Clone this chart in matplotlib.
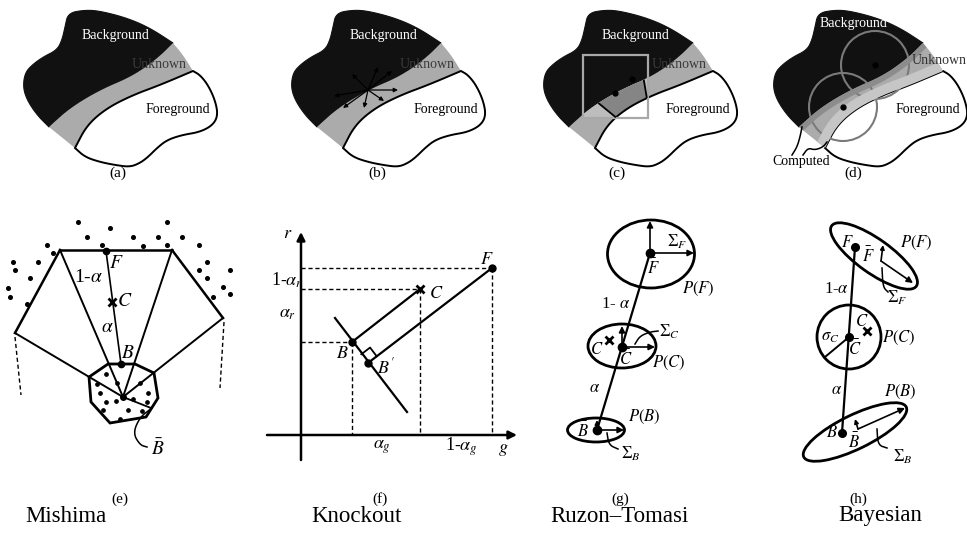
import matplotlib
matplotlib.use("Agg")
import matplotlib.pyplot as plt
import numpy as np
from matplotlib.patches import Polygon, Ellipse, Circle, Rectangle

plt.rcParams['font.family'] = ['Liberation Serif', 'DejaVu Serif']
plt.rcParams['mathtext.fontset'] = 'stix'

# ---- top row: region template (panel (a) pixel coords) ----
outer_black = [(49, 127), (37, 115), (27, 100), (23, 87), (25, 73), (32, 65), (43, 57),
               (57, 50), (62, 40), (65, 27), (68, 13), (85, 10), (100, 11), (127, 18),
               (150, 28), (173, 43)]
bg_edge = [(49, 127), (70, 108), (100, 90), (133, 76), (158, 58), (173, 43)]
band_right = [(173, 43), (183, 55), (193, 71)]
fg_edge = [(75, 148), (87, 125), (107, 108), (133, 95), (160, 85), (193, 71)]
fg_outer = [(193, 71), (200, 75), (208, 85), (215, 100), (218, 115), (213, 125), (200, 132),
            (182, 135), (167, 140), (157, 148), (148, 157), (140, 163), (130, 167),
            (115, 165), (100, 162), (85, 157), (75, 148)]

top_offsets = [0, 268, 520, 750]
top_labels = ['(a)', '(b)', '(c)', '(d)']
top_label_x = [118, 377, 617, 853]

# (b) propagation rays
b_center = (368, 90)
b_rays = [(378, 67), (352, 74), (334, 96), (343, 108), (364, 108), (384, 101), (398, 90), (392, 71)]

# (c) window
c_square = (583, 55, 65, 63)
c_wedge = [(60, 88), (118, 45), (128, 105), (104, 124)]
c_dots = [(632, 79), (615, 93)]

# (d) neighbourhoods
d_circles = [(875, 65, 34), (843, 107, 34)]
d_ptr1 = [(792, 155), (797, 147), (800, 137), (802, 127)]
d_ptr2 = [(803, 155), (808, 148), (815, 150), (823, 147), (827, 142)]

# ---- (e) Mishima ----
e_top = [(60, 250), (172, 250)]
e_left = (15, 333)
e_right = (223, 318)
e_center = (123, 397)
e_oct = [(108, 364), (135, 364), (154, 373), (158, 398), (146, 417), (110, 423), (91, 402), (89, 377)]
e_F, e_B, e_C = (106, 251), (121, 364), (112, 302)
e_dots_out = [(78, 222), (110, 228), (167, 222), (87, 237), (133, 237), (158, 237), (182, 237),
              (47, 245), (53, 253), (102, 245), (143, 246), (167, 245), (199, 245), (13, 262),
              (15, 270), (38, 262), (30, 278), (8, 288), (10, 297), (27, 304), (207, 262),
              (199, 270), (230, 270), (207, 278), (223, 287), (230, 294), (213, 297)]
e_dots_in = [(106, 374), (117, 383), (97, 384), (140, 383), (148, 393), (100, 393), (106, 402),
             (116, 401), (133, 399), (147, 402), (128, 410), (142, 411), (103, 410), (120, 419)]
e_ptr = [(152, 408), (140, 417), (133, 433), (140, 445), (147, 447)]

# ---- (f) Knockout ----
f_origin = (301, 435)
f_rtop, f_gend, f_rbot, f_gstart = 232, 517, 460, 267
f_F, f_C, f_B, f_Bp = (492, 268), (420, 289), (352, 342), (368, 363)
f_perp = [(335, 318), (407, 412)]

# ---- (g) Ruzon-Tomasi ----
g_ell = [(651, 254, 87, 68), (622, 346, 68, 44), (596, 430, 57, 24)]
g_F, g_C, g_B = (650, 253), (622, 347), (597, 430)
g_x = (609, 340)

# ---- (h) Bayesian ----
h_ell = [(874, 256, 104, 34, 35.5), (855, 432, 114, 34, -26)]
h_circ = (849, 337, 32)
h_F, h_C, h_B = (855, 247), (849, 337), (842, 433)
h_x = (867, 331)

titles = ['Mishima', 'Knockout', 'Ruzon\u2013Tomasi', 'Bayesian']
title_x = [66, 356, 619, 880]
bot_labels = ['(e)', '(f)', '(g)', '(h)']
bot_label_x = [120, 380, 620, 858]


def chaikin(pts, n=4):
    p = np.asarray(pts, float)
    for _ in range(n):
        q = [p[0]]
        for a, b in zip(p[:-1], p[1:]):
            q += [0.75 * a + 0.25 * b, 0.25 * a + 0.75 * b]
        q.append(p[-1])
        p = np.array(q)
    return p


def shift(pts, dx):
    return [(x + dx, y) for x, y in pts]


fig = plt.figure(figsize=(9.67, 5.34), dpi=100)
ax = fig.add_axes([0, 0, 1, 1])
ax.set_xlim(0, 967)
ax.set_ylim(534, 0)
ax.axis('off')


def arrow(p0, p1, lw=1.2, ms=9):
    ax.annotate('', xy=p1, xytext=p0,
                arrowprops=dict(arrowstyle='-|>', lw=lw, color='k', mutation_scale=ms,
                                shrinkA=0, shrinkB=0))


def txt(x, y, s, size=12, **kw):
    ax.text(x, y, s, size=size, ha=kw.pop('ha', 'center'), va=kw.pop('va', 'center'), **kw)


# ---------------- top row ----------------
for k, dx in enumerate(top_offsets):
    ob = chaikin(shift(outer_black, dx))
    be = chaikin(shift(bg_edge, dx))
    br = chaikin(shift(band_right, dx), 2)
    fe = chaikin(shift(fg_edge, dx))
    fo = chaikin(shift(fg_outer, dx))
    black = np.vstack([ob, be[::-1]])
    band = np.vstack([be, br, fe[::-1]])
    white = np.vstack([fe, fo])
    ax.add_patch(Polygon(black, closed=True, fc='#111111', ec='#111111', lw=0.8))
    band_p = Polygon(band, closed=True, fc='#ababab', ec='none')
    ax.add_patch(band_p)

    if k == 2:
        sx, sy, sw, sh = c_square
        sq = Rectangle((sx, sy), sw, sh, transform=ax.transData)
        lb = Polygon(band, closed=True, fc='#bdbdbd', ec='none')
        ax.add_patch(lb)
        lb.set_clip_path(sq)
        dk = Polygon(band, closed=True, fc='#858585', ec='none')
        ax.add_patch(dk)
        dk.set_clip_path(Polygon(shift(c_wedge, dx), closed=True, transform=ax.transData))
        w = shift(c_wedge, dx)
        for a, b in [(w[0], w[3]), (w[1], w[2])]:
            ln, = ax.plot([a[0], b[0]], [a[1], b[1]], color='k', lw=1.3)
            ln.set_clip_path(band_p)
    if k == 3:
        ln, = ax.plot(be[:, 0], be[:, 1], color='#8c8c8c', lw=8, solid_capstyle='butt')
        ln.set_clip_path(band_p)
        ln, = ax.plot(fe[:, 0], fe[:, 1], color='#c6c6c6', lw=14, solid_capstyle='butt')
        ln.set_clip_path(band_p)

    ax.add_patch(Polygon(white, closed=True, fc='white', ec='k', lw=1.4))

    if k == 2:
        sx, sy, sw, sh = c_square
        ax.add_patch(Rectangle((sx, sy), sw, sh, fill=False, ec='#a8a8a8', lw=1.6))
        for p in c_dots:
            ax.plot(*p, 'o', color='k', ms=3.5)

    if k == 3:
        for cx, cy, r in d_circles:
            ax.add_patch(Circle((cx, cy), r, fill=False, ec='#7a7a7a', lw=1.5))
            ax.plot(cx, cy, 'o', color='k', ms=3.5)
        for ptr in (d_ptr1, d_ptr2):
            pp = chaikin(ptr, 3)
            ax.plot(pp[:, 0], pp[:, 1], color='k', lw=1.1)
        txt(801, 161, 'Computed', size=10)
        txt(853, 24, 'Background', size=10, color='white')
        txt(912, 60, 'Unknown', size=10, color='#333333', ha='left')
    else:
        txt(115 + dx, 35, 'Background', size=10, color='white')
        txt(159 + dx, 65, 'Unknown', size=10, color='#3a3a3a')
    txt(178 + dx, 109, 'Foreground', size=10)
    txt(top_label_x[k], 173, top_labels[k], size=11)

# (b) rays
for p in b_rays:
    arrow(b_center, p, lw=0.9, ms=6)

# ---------------- (e) Mishima ----------------
ax.plot([e_top[0][0], e_top[1][0]], [e_top[0][1], e_top[1][1]], color='k', lw=1.8)
ax.plot([e_left[0], e_top[0][0]], [e_left[1], e_top[0][1]], color='k', lw=1.8)
ax.plot([e_right[0], e_top[1][0]], [e_right[1], e_top[1][1]], color='k', lw=1.8)
for p in (e_top[0], e_top[1], e_left, e_right):
    ax.plot([p[0], e_center[0]], [p[1], e_center[1]], color='k', lw=1.4)
ax.add_patch(Polygon(e_oct, closed=True, fill=False, ec='k', lw=2.0))
ax.plot([e_center[0], e_oct[4][0] + 5], [e_center[1], e_oct[3][1] + 10], color='k', lw=1.3)
pp = chaikin(e_ptr, 3)
ax.plot(pp[:, 0], pp[:, 1], color='k', lw=1.1)
ax.plot([e_left[0], e_left[0] + 6], [e_left[1] + 4, 395], color='k', lw=1.0, ls=(0, (3, 2)))
ax.plot([e_right[0] + 1, e_right[0] - 3], [e_right[1] + 4, 388], color='k', lw=1.0, ls=(0, (3, 2)))
ax.plot([e_F[0], e_B[0]], [e_F[1], e_B[1]], color='k', lw=1.2)
xs, ys = zip(*e_dots_out)
ax.plot(xs, ys, 'o', color='k', ms=2.6, ls='none')
xs, ys = zip(*e_dots_in)
ax.plot(xs, ys, 'o', color='k', ms=2.4, ls='none')
ax.plot(*e_F, 'o', color='k', ms=4.5)
ax.plot(*e_B, 'o', color='k', ms=4.5)
ax.plot(*e_center, 'o', color='k', ms=4)
ax.plot(*e_C, marker='x', color='k', ms=6, mew=2)
txt(116, 263, '$F$', 14)
txt(88, 278, '1-$\\alpha$', 14)
txt(125, 302, '$C$', 14)
txt(107, 328, '$\\alpha$', 14)
txt(128, 354, '$B$', 14)
txt(158, 449, '$\\bar{B}$', 14)

# ---------------- (f) Knockout ----------------
ox, oy = f_origin
arrow((ox, f_rbot), (ox, f_rtop), lw=1.8, ms=12)
arrow((f_gstart, oy), (f_gend, oy), lw=1.8, ms=12)
dash = dict(color='k', lw=1.0, ls=(0, (3, 2)))
for p in (f_F, f_C, f_B):
    ax.plot([ox, p[0]], [p[1], p[1]], **dash)
    ax.plot([p[0], p[0]], [p[1], oy], **dash)
ax.plot([f_B[0], f_C[0]], [f_B[1], f_C[1]], color='k', lw=1.6)
ax.plot([f_Bp[0], f_F[0]], [f_Bp[1], f_F[1]], color='k', lw=1.6)
ax.plot([f_perp[0][0], f_perp[1][0]], [f_perp[0][1], f_perp[1][1]], color='k', lw=1.6)
u = np.subtract(f_F, f_Bp); u = u / np.hypot(*u)
v = np.subtract(f_B, f_Bp); v = v / np.hypot(*v)
s = 11
c1 = np.add(f_Bp, s * v); c2 = c1 + s * u; c3 = np.add(f_Bp, s * u)
ax.plot([c1[0], c2[0], c3[0]], [c1[1], c2[1], c3[1]], color='k', lw=1.3)
for p in (f_F, f_B, f_Bp):
    ax.plot(*p, 'o', color='k', ms=5)
ax.plot(*f_C, marker='x', color='k', ms=6, mew=2)
txt(288, 234, '$r$', 13)
txt(503, 450, '$g$', 13)
txt(287, 280, '1-$\\alpha_r$', 13)
txt(288, 313, '$\\alpha_r$', 13)
txt(382, 447, '$\\alpha_g$', 13)
txt(461, 447, '1-$\\alpha_g$', 13)
txt(342, 354, '$B$', 13)
txt(386, 367, "$B'$", 13)
txt(436, 293, '$C$', 13)
txt(487, 260, '$F$', 13)

# ---------------- (g) Ruzon-Tomasi ----------------
for cx, cy, w, h in g_ell:
    ax.add_patch(Ellipse((cx, cy), w, h, fill=False, ec='k', lw=2.0))
ax.plot([g_F[0], g_B[0]], [g_F[1], g_B[1]], color='k', lw=1.6)
arrow(g_F, (g_F[0], g_F[1] - 32))
arrow(g_F, (g_F[0] + 44, g_F[1]))
arrow(g_C, (g_C[0], g_C[1] - 21))
arrow(g_C, (g_C[0] + 33, g_C[1]))
arrow(g_B, (g_B[0], g_B[1] - 10), ms=6)
arrow(g_B, (g_B[0] + 27, g_B[1]))
for p in (g_F, g_C, g_B):
    ax.plot(*p, 'o', color='k', ms=6)
ax.plot(*g_x, marker='x', color='k', ms=6, mew=2)
pp = chaikin([(635, 344), (640, 336), (650, 332), (658, 331)], 3)
ax.plot(pp[:, 0], pp[:, 1], color='k', lw=1.1)
pp = chaikin([(607, 433), (609, 445), (618, 449)], 3)
ax.plot(pp[:, 0], pp[:, 1], color='k', lw=1.1)
txt(677, 242, '$\\Sigma_F$', 12)
txt(653, 268, '$\\bar{F}$', 12)
txt(698, 289, '$P(F)$', 12)
txt(616, 304, '1- $\\alpha$', 12)
txt(597, 350, '$C$', 12)
txt(626, 359, '$\\bar{C}$', 12)
txt(669, 332, '$\\Sigma_C$', 12)
txt(669, 363, '$P(C)$', 12)
txt(595, 388, '$\\alpha$', 12)
txt(644, 417, '$P(B)$', 12)
txt(583, 431, '$\\bar{B}$', 12)
txt(631, 454, '$\\Sigma_B$', 12)

# ---------------- (h) Bayesian ----------------
for cx, cy, w, h, ang in h_ell:
    ax.add_patch(Ellipse((cx, cy), w, h, angle=ang, fill=False, ec='k', lw=2.0))
cx, cy, r = h_circ
ax.add_patch(Circle((cx, cy), r, fill=False, ec='k', lw=2.0))
ax.plot([h_F[0], h_B[0]], [h_F[1], h_B[1]], color='k', lw=1.6)
ax.plot([h_C[0], h_C[0] - 24], [h_C[1], h_C[1] + 20], color='k', lw=1.4)
arrow((881, 261), (913, 283))
arrow((881, 261), (883, 245), ms=6)
arrow((858, 429), (905, 408))
arrow((858, 429), (855, 419), ms=6)
for p in (h_F, h_C, h_B):
    ax.plot(*p, 'o', color='k', ms=5.5)
ax.plot(*h_x, marker='x', color='k', ms=6, mew=2)
pp = chaikin([(882, 268), (883, 287), (888, 292)], 3)
ax.plot(pp[:, 0], pp[:, 1], color='k', lw=1.1)
pp = chaikin([(877, 429), (878, 445), (887, 448)], 3)
ax.plot(pp[:, 0], pp[:, 1], color='k', lw=1.1)
txt(847, 243, '$F$', 12)
txt(868, 256, '$\\bar{F}$', 12)
txt(916, 243, '$P(F)$', 12)
txt(897, 298, '$\\Sigma_F$', 12)
txt(836, 289, '1-$\\alpha$', 12)
txt(862, 322, '$C$', 12)
txt(830, 337, '$\\sigma_C$', 12)
txt(855, 349, '$\\bar{C}$', 12)
txt(899, 338, '$P(C)$', 12)
txt(837, 390, '$\\alpha$', 12)
txt(900, 392, '$P(B)$', 12)
txt(832, 433, '$B$', 12)
txt(854, 442, '$\\bar{B}$', 12)
txt(903, 457, '$\\Sigma_B$', 12)

for lab, x in zip(bot_labels, bot_label_x):
    txt(x, 499, lab, 11)
for t, x in zip(titles, title_x):
    txt(x, 516, t, 16.5)

fig.savefig('out.png', dpi=100)
